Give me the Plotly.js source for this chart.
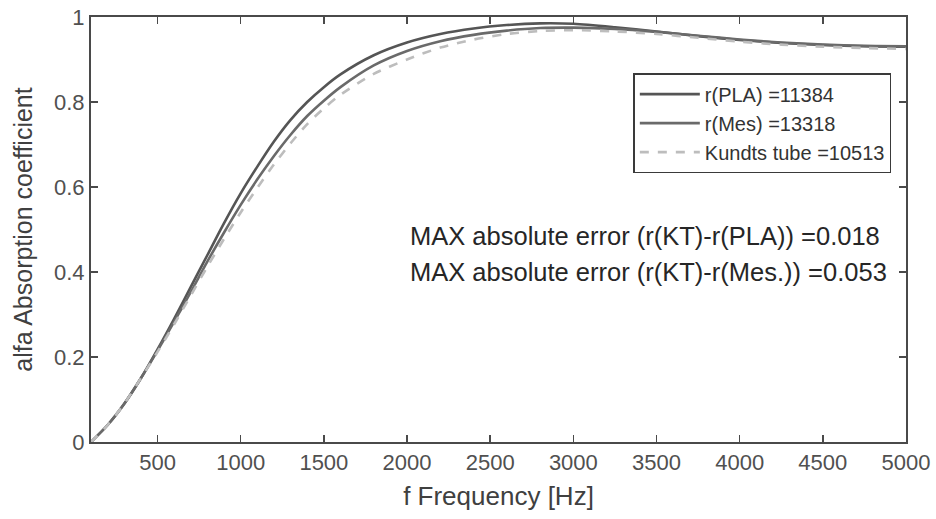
<!DOCTYPE html>
<html>
<head>
<meta charset="utf-8">
<script src="https://cdn.plot.ly/plotly-3.0.1.min.js"></script>
<style>html,body{margin:0;padding:0;background:#fff;}#chart{width:936px;height:519px;}</style>
</head>
<body>
<div id="chart"></div>
<script>
const freq = [100,200,300,400,500,600,700,800,900,1000,1100,1200,1300,1400,1500,1600,1800,2000,2200,2400,2600,2800,3000,3250,3500,3750,4000,4250,4500,4750,5000];
const alphaPLA = [0,0.04,0.09,0.15,0.218,0.29,0.365,0.44,0.515,0.585,0.648,0.707,0.758,0.80,0.835,0.865,0.91,0.94,0.96,0.973,0.981,0.985,0.984,0.976,0.966,0.955,0.946,0.939,0.934,0.931,0.93];
const alphaMes = [0,0.04,0.09,0.15,0.215,0.283,0.353,0.425,0.493,0.558,0.618,0.673,0.723,0.767,0.803,0.835,0.886,0.92,0.943,0.958,0.968,0.974,0.975,0.972,0.965,0.956,0.947,0.94,0.935,0.932,0.931];
const alphaKT = [0,0.04,0.09,0.15,0.212,0.277,0.345,0.413,0.478,0.54,0.598,0.653,0.703,0.748,0.785,0.817,0.866,0.90,0.928,0.947,0.96,0.967,0.969,0.966,0.96,0.951,0.942,0.935,0.93,0.927,0.925];
const seriesNames = ['r(PLA) =11384','r(Mes) =13318','Kundts tube =10513'];
const xTicks = [500,1000,1500,2000,2500,3000,3500,4000,4500,5000];
const yTicks = [0,0.2,0.4,0.6,0.8,1];
const yTickText = ['0','0.2','0.4','0.6','0.8','1'];
const notes = ['MAX absolute error (r(KT)-r(PLA)) =0.018','MAX absolute error (r(KT)-r(Mes.)) =0.053'];
const noteY = [0.485, 0.40];

const font = 'Liberation Sans, Arial, Helvetica, sans-serif';
const traces = [
  {x: freq, y: alphaPLA, name: seriesNames[0], mode:'lines', line:{color:'#555555', width:2.6, shape:'spline', smoothing:0.8}},
  {x: freq, y: alphaMes, name: seriesNames[1], mode:'lines', line:{color:'#6a6a6a', width:2.6, shape:'spline', smoothing:0.8}},
  {x: freq, y: alphaKT, name: seriesNames[2], mode:'lines', line:{color:'#bdbdbd', width:2.6, dash:'dash', shape:'spline', smoothing:0.8}}
];
const axisCommon = {
  showline:true, linecolor:'#4a4a4a', linewidth:2, mirror:'ticks',
  ticks:'inside', ticklen:7, tickwidth:1.5, tickcolor:'#4a4a4a',
  showgrid:false, zeroline:false,
  tickfont:{family:font, size:22, color:'#505050'}
};
const layout = {
  width:936, height:519,
  margin:{l:91, r:30, t:17, b:77},
  paper_bgcolor:'#fff', plot_bgcolor:'#fff',
  font:{family:font, color:'#404040'},
  xaxis: Object.assign({}, axisCommon, {
    range:[100,5000], tickvals:xTicks, ticktext:xTicks.map(String),
    title:{text:'f Frequency [Hz]', font:{family:font, size:26, color:'#404040'}, standoff:12}
  }),
  yaxis: Object.assign({}, axisCommon, {
    range:[0,1], tickvals:yTicks, ticktext:yTickText,
    title:{text:'alfa Absorption coefficient', font:{family:font, size:25, color:'#404040'}, standoff:14}
  }),
  showlegend:true,
  legend:{
    x:0.982, y:0.868, xanchor:'right', yanchor:'top',
    bgcolor:'#fff', bordercolor:'#3a3a3a', borderwidth:1.5,
    font:{family:font, size:20, color:'#333'},
    tracegroupgap:0, itemwidth:60
  },
  annotations: notes.map((t,i)=>({
    x:2006, y:noteY[i], xref:'x', yref:'y', xanchor:'left', yanchor:'middle',
    text:t, showarrow:false, font:{family:font, size:25.5, color:'#262626'}
  }))
};
Plotly.newPlot('chart', traces, layout, {displayModeBar:false, staticPlot:true});
</script>
</body>
</html>
